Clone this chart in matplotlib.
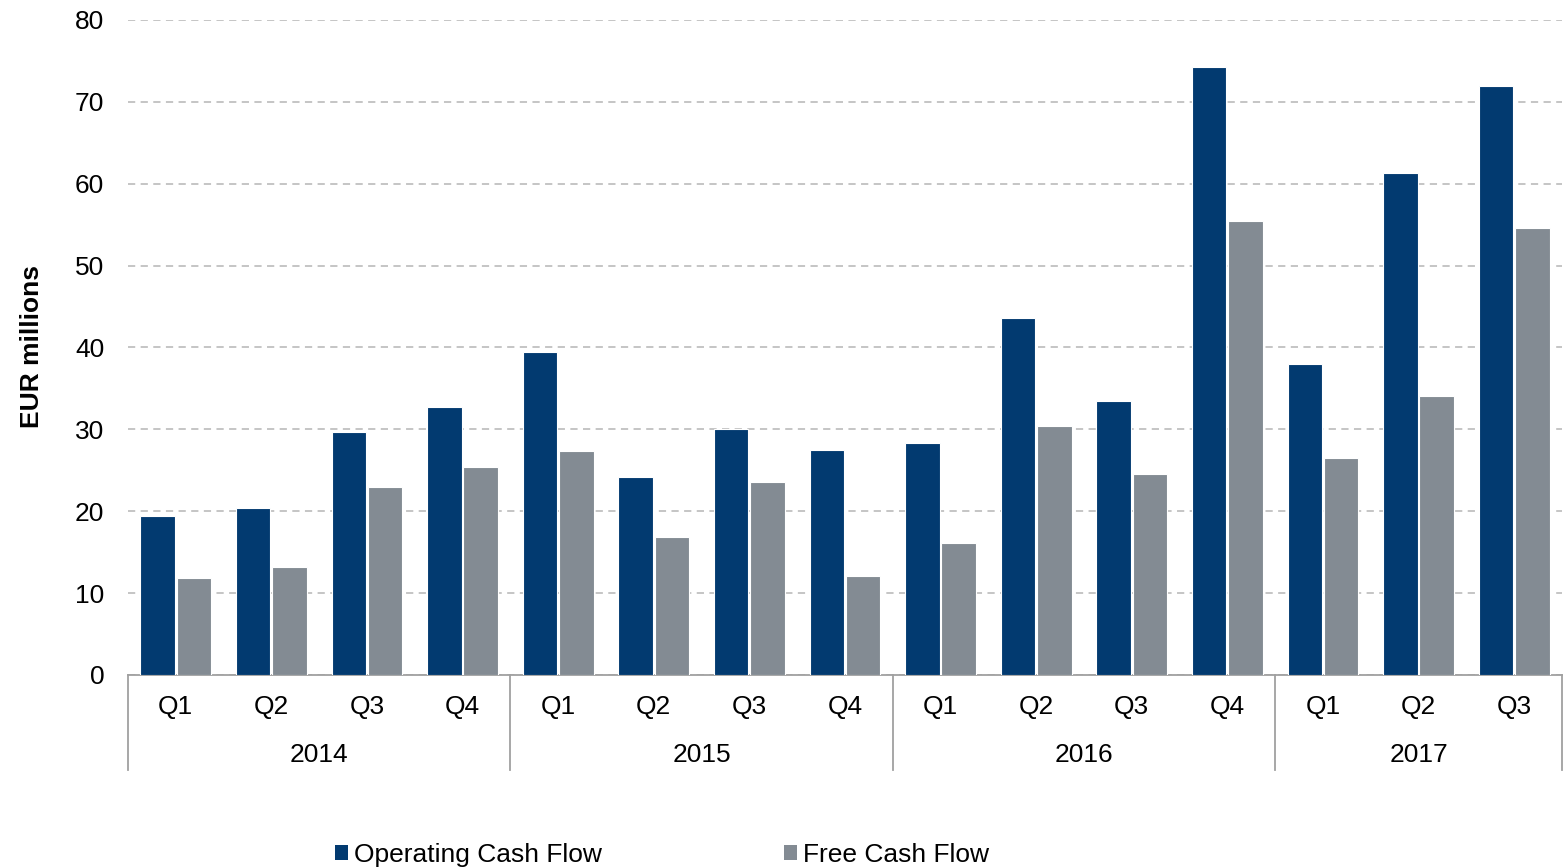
import matplotlib.pyplot as plt
import numpy as np
from matplotlib.lines import Line2D
from matplotlib.patches import Patch

plt.rcParams['font.family'] = ['Liberation Sans', 'DejaVu Sans']

BLUE = "#023a70"
GREY = "#838b93"

years = ["2014", "2015", "2016", "2017"]
quarters = ["Q1", "Q2", "Q3", "Q4",
            "Q1", "Q2", "Q3", "Q4",
            "Q1", "Q2", "Q3", "Q4",
            "Q1", "Q2", "Q3"]
quarters_per_year = [4, 4, 4, 3]
operating_cf = [19.4, 20.4, 29.7, 32.7,
                39.5, 24.2, 30.0, 27.5,
                28.3, 43.6, 33.5, 74.2,
                38.0, 61.3, 71.9]
free_cf = [11.8, 13.2, 23.0, 25.4,
           27.4, 16.9, 23.6, 12.1,
           16.1, 30.4, 24.5, 55.5,
           26.5, 34.1, 54.6]

fig = plt.figure(figsize=(15.66, 8.68), dpi=100)
ax = fig.add_axes([0.0817, 0.2224, 0.9157, 0.7546])

x = np.arange(len(quarters))
w = 0.36
ax.bar(x - 0.19, operating_cf, w, color=BLUE, edgecolor="white", linewidth=0.8, zorder=3)
ax.bar(x + 0.19, free_cf, w, color=GREY, edgecolor="white", linewidth=0.8, zorder=3)

ax.set_xlim(-0.5, len(quarters) - 0.5)
ax.set_ylim(0, 80)
ax.set_yticks(range(0, 81, 10))
ax.yaxis.grid(True, color="#c0c0c0", ls=(0, (4, 3)), lw=1.3, zorder=0)
ax.tick_params(axis='y', length=0, pad=17, labelsize=19)
ax.set_xticks([])

for s in ["top", "right", "left"]:
    ax.spines[s].set_visible(False)
ax.spines["bottom"].set_color("#a0a0a0")
ax.spines["bottom"].set_linewidth(1.3)

# Two-level category axis: quarters, then years with separators
trans = ax.get_xaxis_transform()
for xi, q in zip(x, quarters):
    ax.text(xi, -0.049, q, transform=trans, ha='center', va='center', fontsize=19)

start = -0.5
bounds = [start]
for yr, n in zip(years, quarters_per_year):
    end = start + n
    ax.text((start + end) / 2, -0.122, yr, transform=trans, ha='center', va='center', fontsize=19)
    start = end
    bounds.append(end)
for b in bounds:
    ax.add_line(Line2D([b, b], [0, -0.145], transform=trans, color="#a0a0a0", lw=1.3, clip_on=False))

fig.text(32 / 1566, 0.601, "EUR millions", rotation=90, ha='center', va='center',
         fontsize=19, fontweight='bold')

handles = [Patch(facecolor=BLUE, label="Operating Cash Flow"),
           Patch(facecolor=GREY, label="Free Cash Flow")]
fig.legend(handles=handles, loc='center left', bbox_to_anchor=(324 / 1566, 13 / 868),
           ncol=2, frameon=False, fontsize=19, handlelength=0.5, handleheight=0.5,
           handletextpad=0.22, columnspacing=6.9, borderaxespad=0)

fig.savefig("out.png", dpi=100)
